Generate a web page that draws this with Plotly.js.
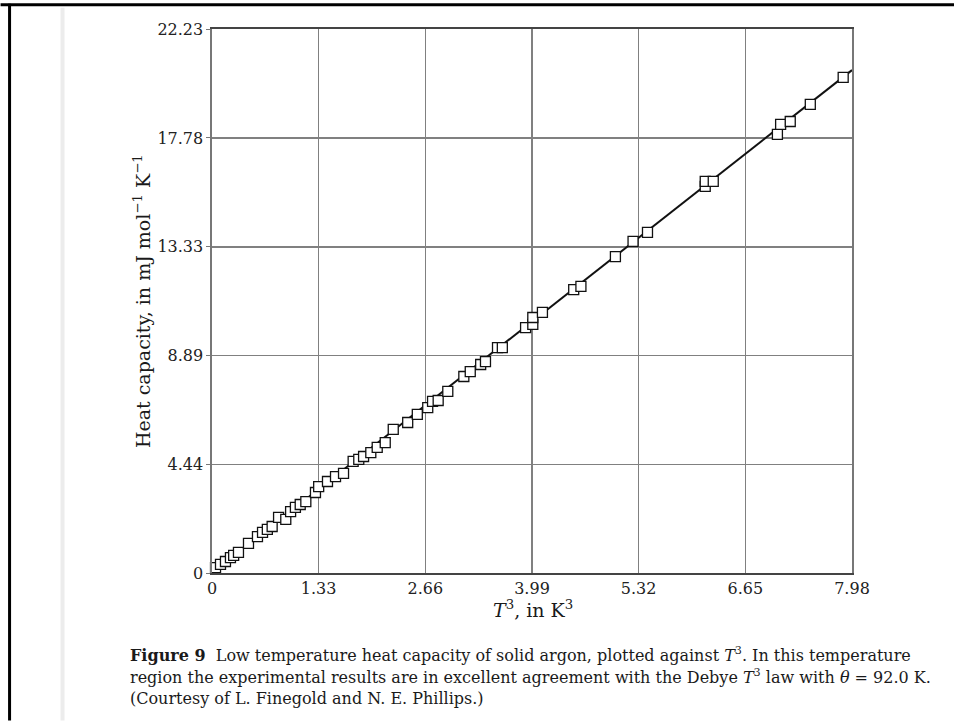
<!DOCTYPE html>
<html>
<head>
<meta charset="utf-8">
<script src="https://cdn.plot.ly/plotly-3.0.1.min.js"></script>
<style>html,body{margin:0;padding:0;background:#fff;}#chart{width:954px;height:721px;}</style>
</head>
<body>
<div id="chart"></div>
<script>
// Data: T^3 (K^3) vs heat capacity (mJ mol^-1 K^-1)
var tCubed = [0.044,0.106,0.168,0.23,0.27,0.33,0.455,0.567,0.63,0.69,0.75,0.83,0.92,0.98,1.04,1.10,1.17,1.29,1.33,1.44,1.54,1.64,1.76,1.83,1.89,1.98,2.06,2.16,2.26,2.44,2.56,2.69,2.75,2.82,2.94,3.14,3.22,3.35,3.41,3.56,3.62,3.91,4.0,4.0,4.12,4.51,4.60,5.03,5.25,5.43,6.15,6.15,6.25,7.05,7.09,7.21,7.46,7.87];
var heatCap = [0.22,0.35,0.47,0.63,0.72,0.84,1.21,1.49,1.66,1.78,1.90,2.27,2.19,2.51,2.68,2.80,2.92,3.29,3.53,3.74,3.94,4.07,4.56,4.64,4.76,4.92,5.13,5.33,5.87,6.15,6.48,6.76,7.01,7.05,7.42,8.03,8.23,8.52,8.64,9.21,9.21,10.03,10.16,10.44,10.65,11.58,11.71,12.93,13.55,13.92,15.80,16.0,16.0,17.92,18.33,18.45,19.15,20.25];
// Debye T^3 fit line end points
var fitX = [0.0, 7.98];
var fitY = [0.0, 20.55];
// Tick values and labels
var xTicks = [0, 1.33, 2.66, 3.99, 5.32, 6.65, 7.98];
var xTickText = ["0", "1.33", "2.66", "3.99", "5.32", "6.65", "7.98"];
var yTicks = [0, 4.44, 8.89, 13.33, 17.78, 22.23];
var yTickText = ["0", "4.44", "8.89", "13.33", "17.78", "22.23"];
var captionLines = [
  "<b>Figure 9</b>  Low temperature heat capacity of solid argon, plotted against <i>T</i><sup>3</sup>. In this temperature",
  "region the experimental results are in excellent agreement with the Debye <i>T</i><sup>3</sup> law with <i>θ</i> = 92.0 K.",
  "(Courtesy of L. Finegold and N. E. Phillips.)"
];

var W = 954, H = 721;
var L = 211.5, R = 851.7, T = 29.3, B = 573.5;
function px(x){ return (x - L) / (R - L); }
function py(y){ return (B - y) / (B - T); }

var serif = "DejaVu Serif, Liberation Serif, serif";

var traces = [
  {x: fitX, y: fitY, mode: 'lines', line: {color: '#111', width: 2}, hoverinfo: 'skip', showlegend: false, cliponaxis: false},
  {x: tCubed, y: heatCap, mode: 'markers', showlegend: false, cliponaxis: false,
   marker: {symbol: 'square', size: 10, color: '#fff', line: {color: '#111', width: 1.3}}}
];

var annotations = [
  {xref: 'paper', yref: 'paper', x: px(141), y: py(302), text: "Heat capacity, in mJ mol<sup>−1</sup> K<sup>−1</sup>",
   textangle: -90, showarrow: false, xanchor: 'center', yanchor: 'middle', font: {family: serif, size: 19, color: '#1a1a1a'}},
  {xref: 'paper', yref: 'paper', x: px(533), y: py(610), text: "<i>T</i><sup>3</sup>, in K<sup>3</sup>",
   showarrow: false, xanchor: 'center', yanchor: 'middle', font: {family: serif, size: 19, color: '#1a1a1a'}}
];
var capY = [655, 677, 699];
for (var i = 0; i < captionLines.length; i++) {
  annotations.push({xref: 'paper', yref: 'paper', x: px(127), y: py(capY[i]), text: captionLines[i],
    showarrow: false, xanchor: 'left', yanchor: 'middle', align: 'left', font: {family: serif, size: 16, color: '#1a1a1a'}});
}

var shapes = [
  {type: 'line', xref: 'paper', yref: 'paper', x0: px(0), x1: px(954), y0: py(5), y1: py(5), line: {color: '#000', width: 3}},
  {type: 'line', xref: 'paper', yref: 'paper', x0: px(9), x1: px(9), y0: py(4), y1: py(721), line: {color: '#000', width: 3}},
  {type: 'line', xref: 'paper', yref: 'paper', x0: px(62), x1: px(62), y0: py(8), y1: py(721), line: {color: '#ececec', width: 4}}
];

var layout = {
  width: W, height: H, autosize: false,
  margin: {l: L, r: W - R, t: T, b: H - B, pad: 0},
  paper_bgcolor: '#fff', plot_bgcolor: '#fff',
  font: {family: serif, color: '#222'},
  xaxis: {range: [0, 7.98], tickmode: 'array', tickvals: xTicks, ticktext: xTickText,
    showgrid: true, gridcolor: '#808080', gridwidth: 1.6, zeroline: false,
    showline: true, linecolor: '#444', linewidth: 2, mirror: true,
    ticks: '', tickfont: {family: serif, size: 16, color: '#222'}, fixedrange: true},
  yaxis: {range: [0, 22.23], tickmode: 'array', tickvals: yTicks, ticktext: yTickText,
    showgrid: true, gridcolor: '#808080', gridwidth: 1.6, zeroline: false,
    showline: true, linecolor: '#777', linewidth: 1.6, mirror: true,
    ticks: 'outside', ticklen: 4, tickcolor: '#777', tickfont: {family: serif, size: 16, color: '#222'}, fixedrange: true},
  annotations: annotations,
  shapes: shapes,
  showlegend: false
};

Plotly.newPlot('chart', traces, layout, {staticPlot: true, displayModeBar: false});
</script>
</body>
</html>
